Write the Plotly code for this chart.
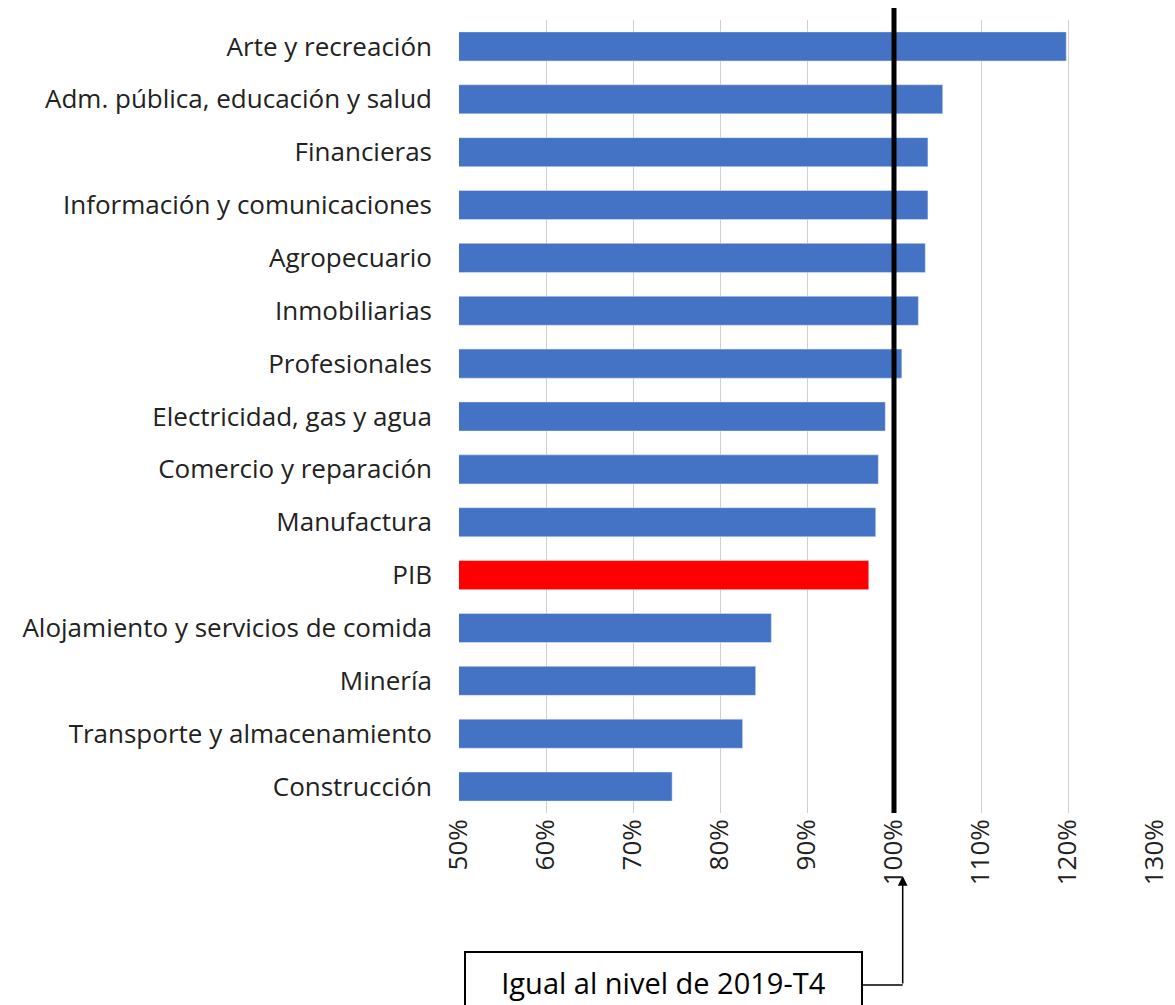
import plotly.graph_objects as go

sectores = ["Arte y recreación", "Adm. pública, educación y salud", "Financieras",
            "Información y comunicaciones", "Agropecuario", "Inmobiliarias",
            "Profesionales", "Electricidad, gas y agua", "Comercio y reparación",
            "Manufactura", "PIB", "Alojamiento y servicios de comida", "Minería",
            "Transporte y almacenamiento", "Construcción"]
niveles = [119.8, 105.6, 103.9, 103.9, 103.6, 102.8, 100.9, 99.0, 98.2, 97.9,
           97.1, 85.9, 84.1, 82.6, 74.5]
colores = ["#FF0000" if s == "PIB" else "#4472C4" for s in sectores]

W, H = 1175, 1005
OFF = 8  # page body margin
L, R, T, B = 459 - OFF, 28, 20 - OFF, 200
ph = H - T - B
pw = W - L - R

def py(p):
    # screen pixel y -> paper y
    return (H - B - (p - OFF)) / ph

fig = go.Figure(go.Bar(
    x=niveles, y=sectores, orientation="h", marker_color=colores,
    width=0.55, base=0,
))
fig.update_layout(
    width=W, height=H, margin=dict(l=L, r=R, t=T, b=B, autoexpand=False),
    plot_bgcolor="white", paper_bgcolor="white", showlegend=False,
    font=dict(family="Open Sans", size=22, color="#222"),
)
fig.update_xaxes(range=[50, 130], dtick=10, ticksuffix="%", tickangle=-90,
                 showgrid=True, gridcolor="#D0D0D0", gridwidth=1, zeroline=False,
                 tickfont=dict(size=26), ticks="", automargin=False)
fig.update_yaxes(autorange="reversed", ticks="", ticklabelstandoff=26,
                 showgrid=False, automargin=False, tickfont=dict(size=26))

# linea de referencia 100%
fig.add_shape(type="line", xref="x", yref="paper", x0=100, x1=100,
              y0=0, y1=py(5), line=dict(color="black", width=5))
# conector caja -> flecha
fig.add_shape(type="line", xref="x", yref="paper", x0=96.3, x1=101,
              y0=py(985), y1=py(985), line=dict(color="black", width=1.5))
fig.add_annotation(x=101, y=py(876), xref="x", yref="paper", showarrow=True,
                   ax=0, ay=109, arrowhead=2, arrowsize=1.3, arrowwidth=1.5,
                   arrowcolor="black", text="")
fig.add_annotation(x=(663 - 459) / pw, y=py(982), xref="paper", yref="paper",
                   xanchor="center", yanchor="middle", width=375,
                   text="Igual al nivel de 2019-T4", showarrow=False,
                   font=dict(size=29, color="black"), bordercolor="black",
                   borderwidth=2, borderpad=10, bgcolor="white")

fig.write_html("out.html")
